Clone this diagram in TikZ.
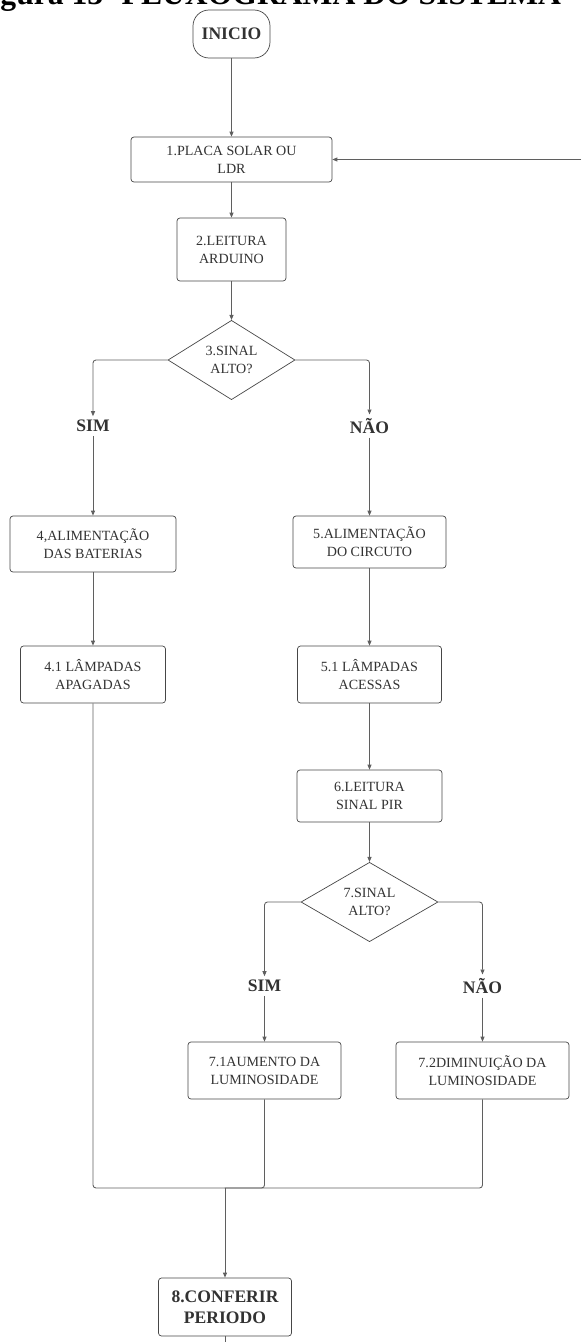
\documentclass[tikz,border=0pt]{standalone}
\usepackage{fontspec}
\setmainfont{Liberation Serif}
\usepackage{tikz}
\usetikzlibrary{shapes.geometric, arrows.meta}
\definecolor{boxgray}{RGB}{70,70,70}
\definecolor{linegray}{RGB}{95,95,95}
\definecolor{textgray}{RGB}{50,50,50}
\tikzstyle{startstop} = [rectangle, rounded corners=0.32cm, minimum width=1.54cm, minimum height=0.96cm, text centered, draw=boxgray, text=textgray, font=\bfseries]
\tikzstyle{process} = [rectangle, rounded corners=0.06cm, text centered, align=center, draw=boxgray, text=textgray, inner sep=1pt]
\tikzstyle{decision} = [diamond, inner sep=0pt, text centered, align=center, draw=boxgray, text=textgray]
\tikzstyle{answer} = [font=\bfseries, text=textgray, fill=white, inner sep=2pt]
\tikzstyle{arrow} = [line width=0.5pt, linegray, rounded corners=0.06cm, -{Triangle[length=0.1cm, width=0.08cm]}]
\tikzstyle{line} = [line width=0.5pt, linegray, rounded corners=0.06cm]

\begin{document}
\begin{tikzpicture}
[node distance=2cm, font=\fontsize{8}{10.2}\selectfont]

\useasboundingbox (-4.63,0.68) rectangle (6.99,-26.16);
\clip (-4.63,0.68) rectangle (6.99,-26.16);

% caption, cut by the page edge
\node (titulo) [anchor=base west, inner sep=0pt, font=\bfseries\fontsize{18}{18}\selectfont] at (-5.19,0.6) {Figura 13- FLUXOGRAMA DO SISTEMA};

\node (inicio) [startstop] {INICIO};
\node (placa) [process, below of=inicio, yshift=-0.51cm, minimum width=4.02cm, minimum height=0.9cm] {1.PLACA SOLAR OU\\LDR};
\node (leitura) [process, below of=placa, yshift=0.2cm, minimum width=2.18cm, minimum height=1.26cm] {2.LEITURA\\ARDUINO};
\node (sinal) [decision, below of=leitura, yshift=-0.21cm, minimum width=2.54cm, minimum height=1.48cm] {3.SINAL\\ALTO?};

\node (baterias) [process, below of=sinal, xshift=-2.77cm, yshift=-1.68cm, minimum width=3.32cm, minimum height=1.12cm] {4,ALIMENTAÇÃO\\DAS BATERIAS};
\node (circuito) [process, below of=sinal, xshift=2.76cm, yshift=-1.64cm, minimum width=3.06cm, minimum height=1.04cm] {5.ALIMENTAÇÃO\\DO CIRCUTO};
\node (sim) [answer, above of=baterias, yshift=0.36cm] {SIM};
\node (nao) [answer, above of=circuito, yshift=0.32cm] {NÃO};

\node (apagadas) [process, below of=baterias, yshift=-0.61cm, minimum width=2.9cm, minimum height=1.14cm] {4.1 LÂMPADAS\\APAGADAS};
\node (acesas) [process, below of=circuito, yshift=-0.65cm, minimum width=2.88cm, minimum height=1.14cm] {5.1 LÂMPADAS\\ACESSAS};
\node (pir) [process, below of=acesas, yshift=-0.43cm, minimum width=2.9cm, minimum height=1.04cm] {6.LEITURA\\SINAL PIR};
\node (sinalpir) [decision, below of=pir, yshift=-0.12cm, minimum width=2.74cm, minimum height=1.48cm] {7.SINAL\\ALTO?};

\node (aumento) [process, below of=sinalpir, xshift=-2.1cm, yshift=-1.37cm, minimum width=3.06cm, minimum height=1.14cm] {7.1AUMENTO DA\\LUMINOSIDADE};
\node (diminui) [process, below of=sinalpir, xshift=2.26cm, yshift=-1.37cm, minimum width=3.46cm, minimum height=1.14cm] {7.2DIMINUIÇÃO DA\\LUMINOSIDADE};
\node (simpir) [answer, above of=aumento, yshift=-0.31cm] {SIM};
\node (naopir) [answer, above of=diminui, yshift=-0.31cm] {NÃO};

\node (conferir) [process, font=\bfseries, below of=aumento, xshift=-0.79cm, yshift=-2.73cm, minimum width=2.66cm, minimum height=1.16cm] {8.CONFERIR\\PERIODO};
\node (juncao) [coordinate, above of=conferir, yshift=0.38cm] {};
\node (fim) [coordinate, below of=conferir, yshift=1.3cm] {};
\node (retorno) [coordinate, right of=placa, xshift=4.99cm] {};

\draw [arrow] (inicio) -- (placa);
\draw [arrow] (retorno) -- (placa);
\draw [arrow] (placa) -- (leitura);
\draw [arrow] (leitura) -- (sinal);
\draw [arrow] (sinal.west) -| (sim);
\draw [arrow] (sinal.east) -| (nao);
\draw [arrow] (sim) -- (baterias);
\draw [arrow] (nao) -- (circuito);
\draw [arrow] (baterias) -- (apagadas);
\draw [arrow] (circuito) -- (acesas);
\draw [arrow] (acesas) -- (pir);
\draw [arrow] (pir) -- (sinalpir);
\draw [arrow] (sinalpir.west) -| (simpir);
\draw [arrow] (sinalpir.east) -| (naopir);
\draw [arrow] (simpir) -- (aumento);
\draw [arrow] (naopir) -- (diminui);
\draw [line] (apagadas) |- (juncao);
\draw [line] (aumento) |- (juncao);
\draw [line] (diminui) |- (juncao);
\draw [arrow] (juncao) -- (conferir);
\draw [line] (conferir) -- (fim);

\end{tikzpicture}
\end{document}
